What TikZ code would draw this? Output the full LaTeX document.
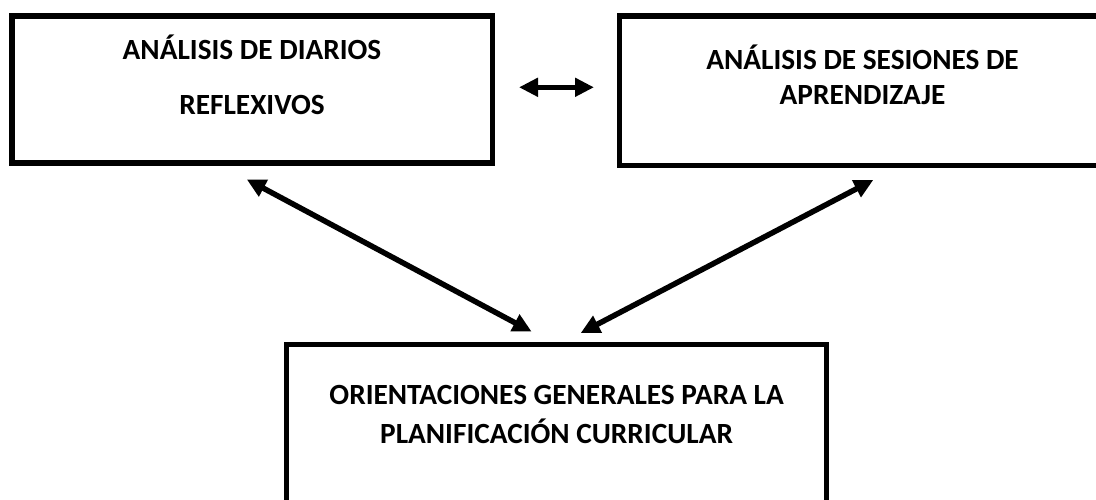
\documentclass[tikz,border=0pt]{standalone}
\usepackage{fontspec}
\setmainfont{Carlito}
\usetikzlibrary{arrows.meta}
\begin{document}
\begin{tikzpicture}[x=1pt,y=-1pt,
  box/.style={draw, line width=5.5pt, inner sep=0pt, rectangle},
  lbl/.style={font=\fontsize{29.3}{33}\selectfont\bfseries, anchor=base, inner sep=0pt},
  dbl/.style={{Triangle[length=19pt,width=18pt]}-{Triangle[length=19pt,width=18pt]}, line width=5.5pt}]
\useasboundingbox (0,0) rectangle (1096,500);
\fill[white] (0,0) rectangle (1096,500);
\clip (0,0) rectangle (1096,500);
% boxes
\node[box, minimum width=480.5pt, minimum height=147pt] (L) at (252.25,89.5) {};
\node[box, minimum width=484pt, minimum height=149.5pt] (R) at (861.7,90.75) {};
\node[box, minimum width=540.2pt, minimum height=170pt] (B) at (556.6,429.5) {};
% texts
\node[lbl] (l1) at (252,59.3) {ANÁLISIS DE DIARIOS};
\node[lbl] (l2) at (252,115) {REFLEXIVOS};
\node[lbl] (r1) at (862.5,70) {ANÁLISIS DE SESIONES DE};
\node[lbl] (r2) at (862.5,105) {APRENDIZAJE};
\node[lbl] (b1) at (556.6,404) {ORIENTACIONES GENERALES PARA LA};
\node[lbl] (b2) at (556.6,443) {PLANIFICACIÓN CURRICULAR};
% arrow ends
\coordinate (hL) at (519,87.3);
\coordinate (hR) at (594,87.3);
\coordinate (dL1) at (246.7,179.3);
\coordinate (dL2) at (531.7,331.7);
\coordinate (dR1) at (873.3,180);
\coordinate (dR2) at (580.7,333);
\draw[dbl] (hL) -- (hR);
\draw[dbl] (dL1) -- (dL2);
\draw[dbl] (dR1) -- (dR2);
\end{tikzpicture}
\end{document}
